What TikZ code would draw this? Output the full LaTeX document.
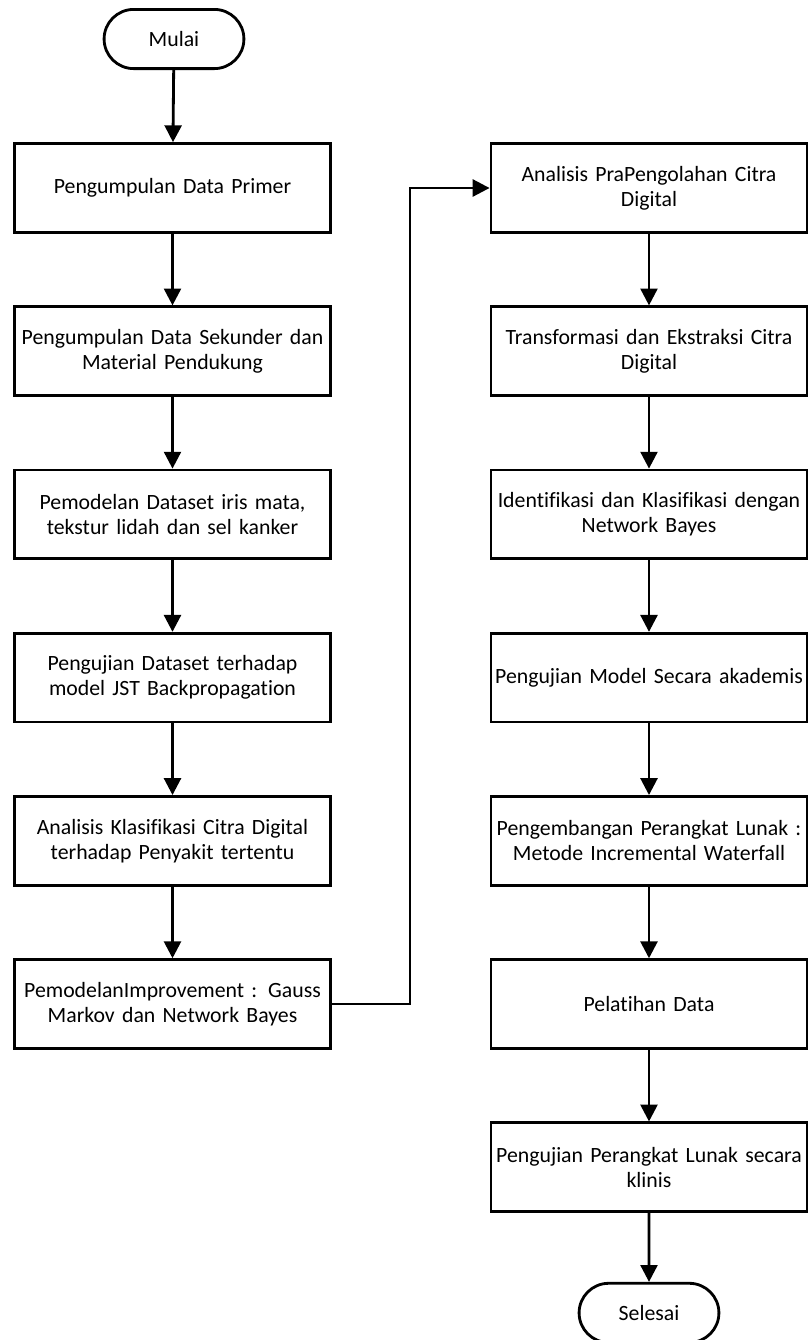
\documentclass[tikz,border=0pt]{standalone}
\usepackage{fontspec}
\setmainfont{Carlito}[Ligatures=NoCommon]
\usetikzlibrary{positioning,arrows.meta,shapes.misc}

\begin{document}
\begin{tikzpicture}[
  >={Triangle[width=12pt,length=12pt]},
  line width=2pt,
  node distance=1.79cm,
  every node/.style={font=\fontsize{15.5pt}{17.8pt}\selectfont},
  process/.style={draw,rectangle,minimum width=7.9cm,minimum height=2.22cm,
    text width=7.9cm,align=center,inner sep=0pt},
  terminal/.style={draw,rounded rectangle,minimum width=3.73cm,minimum height=1.48cm}
]
  \useasboundingbox (0,0) rectangle (20.225,-33.5);

  % Left column: from data collection up to the improved model.
  \node[terminal] (mulai) at (4.35,-0.975) {Mulai};
  \node[process] (l1) at (4.3125,-4.7) {Pengumpulan Data Primer};
  \node[process,below=of l1] (l2) {Pengumpulan Data Sekunder dan\\Material Pendukung};
  \node[process,below=of l2] (l3) {Pemodelan Dataset iris mata,\\tekstur lidah dan sel kanker};
  \node[process,below=of l3] (l4) {Pengujian Dataset terhadap\\model JST Backpropagation};
  \node[process,below=of l4] (l5) {Analisis Klasifikasi Citra Digital\\terhadap Penyakit tertentu};
  \node[process,below=of l5] (l6) {PemodelanImprovement : Gauss\\Markov dan Network Bayes};

  % Right column: image processing, software and testing.
  \node[process] (r1) at (16.225,-4.7) {Analisis PraPengolahan Citra\\Digital};
  \node[process,below=of r1] (r2) {Transformasi dan Ekstraksi Citra\\Digital};
  \node[process,below=of r2] (r3) {Identifikasi dan Klasifikasi dengan\\Network Bayes};
  \node[process,below=of r3] (r4) {Pengujian Model Secara akademis};
  \node[process,below=of r4] (r5) {Pengembangan Perangkat Lunak :\\Metode Incremental Waterfall};
  \node[process,below=of r5] (r6) {Pelatihan Data};
  \node[process,below=of r6] (r7) {Pengujian Perangkat Lunak secara\\klinis};
  \node[terminal,below=1.72cm of r7] (selesai) {Selesai};

  \path[->]
    (mulai) edge (l1)
    (l1) edge (l2)
    (l2) edge (l3)
    (l3) edge (l4)
    (l4) edge (l5)
    (l5) edge (l6)
    (r1) edge (r2)
    (r2) edge (r3)
    (r3) edge (r4)
    (r4) edge (r5)
    (r5) edge (r6)
    (r6) edge (r7)
    (r7) edge (selesai);

  \draw[->] (l6.east) -- ++(1.95,0) |- (r1.west);
\end{tikzpicture}
\end{document}
